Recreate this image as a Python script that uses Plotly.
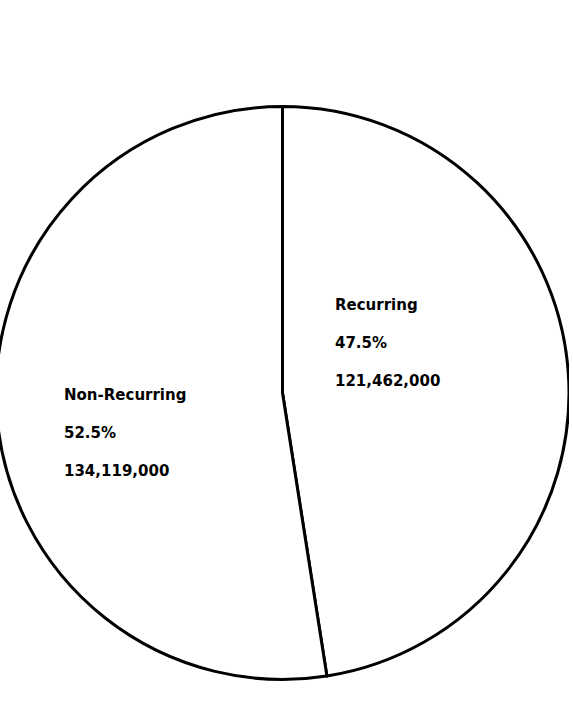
import plotly.graph_objects as go

labels = ["Recurring", "Non-Recurring"]
values = [121462000, 134119000]
percents = ["47.5%", "52.5%"]

SHIFT = 4  # page is nudged left so the circle is clipped like the scan

fig = go.Figure()
fig.add_trace(go.Pie(
    labels=labels,
    values=values,
    sort=False,
    direction="clockwise",
    rotation=0,
    textinfo="none",
    hoverinfo="label+value+percent",
    marker=dict(colors=["white", "white"], line=dict(color="black", width=3)),
    domain=dict(x=[0, 1], y=[0.0348, 0.8487]),
    showlegend=False,
))

label_pos = {"Recurring": ((333 + SHIFT) / 573, 1 - 305 / 704),
             "Non-Recurring": ((62 + SHIFT) / 573, 1 - 395 / 704)}
gap = 38 / 704
font = dict(family="DejaVu Sans", size=15, color="black")
for lab, val, pct in zip(labels, values, percents):
    x0, y0 = label_pos[lab]
    for i, t in enumerate([lab, pct, f"{val:,}"]):
        fig.add_annotation(
            x=x0, y=y0 - i * gap, xref="paper", yref="paper",
            text=f"<b>{t}</b>", showarrow=False,
            xanchor="left", yanchor="middle", font=font,
        )

fig.update_layout(
    width=573, height=704,
    margin=dict(l=0, r=0, t=0, b=0),
    paper_bgcolor="white", plot_bgcolor="white",
)
fig.write_html(
    "out.html",
    config={"displayModeBar": False},
    post_script=("document.body.style.margin='0';document.body.style.overflow='hidden';"
                 "document.getElementById('{plot_id}').style.marginLeft='-%dpx';" % SHIFT),
)
